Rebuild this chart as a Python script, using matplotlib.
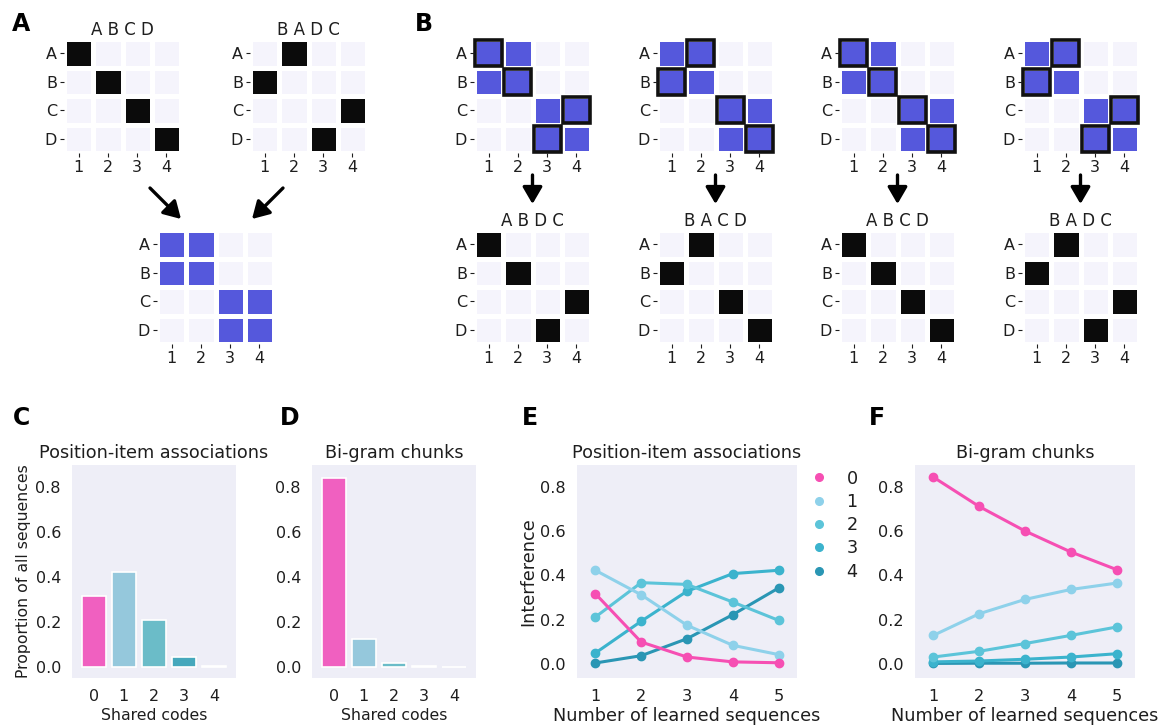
import numpy as np
import matplotlib
matplotlib.use('Agg')
import matplotlib.pyplot as plt
from matplotlib.colors import ListedColormap
from matplotlib.patches import Rectangle, FancyArrowPatch
from matplotlib.lines import Line2D

plt.rcParams['font.family'] = ['DejaVu Sans']
plt.rcParams['text.color'] = '#1e1e1e'
plt.rcParams['axes.labelcolor'] = '#1e1e1e'
plt.rcParams['xtick.color'] = '#1e1e1e'
plt.rcParams['ytick.color'] = '#1e1e1e'

W, H = 1174, 728

# ---- data ----
items = ['A', 'B', 'C', 'D']
positions = ['1', '2', '3', '4']

# 0 = empty, 1 = shared code (blue), 2 = one-hot code (black)
seq_abcd = [[2, 0, 0, 0], [0, 2, 0, 0], [0, 0, 2, 0], [0, 0, 0, 2]]
seq_badc = [[0, 2, 0, 0], [2, 0, 0, 0], [0, 0, 0, 2], [0, 0, 2, 0]]
seq_abdc = [[2, 0, 0, 0], [0, 2, 0, 0], [0, 0, 0, 2], [0, 0, 2, 0]]
seq_bacd = [[0, 2, 0, 0], [2, 0, 0, 0], [0, 0, 2, 0], [0, 0, 0, 2]]
chunks = [[1, 1, 0, 0], [1, 1, 0, 0], [0, 0, 1, 1], [0, 0, 1, 1]]

a_titles = ['A B C D', 'B A D C']
b_titles = ['A B D C', 'B A C D', 'A B C D', 'B A D C']
b_bottom = [seq_abdc, seq_bacd, seq_abcd, seq_badc]

shared_codes = [0, 1, 2, 3, 4]
prop_position_item = [0.314, 0.421, 0.21, 0.044, 0.003]
prop_bigram = [0.844, 0.126, 0.019, 0.002, 0.001]

n_learned = [1, 2, 3, 4, 5]
interf_position_item = {
    0: [0.317, 0.098, 0.030, 0.008, 0.004],
    1: [0.423, 0.312, 0.174, 0.083, 0.041],
    2: [0.211, 0.367, 0.359, 0.279, 0.196],
    3: [0.048, 0.192, 0.328, 0.408, 0.423],
    4: [0.003, 0.036, 0.113, 0.222, 0.343],
}
interf_bigram = {
    0: [0.845, 0.712, 0.601, 0.506, 0.426],
    1: [0.128, 0.226, 0.291, 0.336, 0.365],
    2: [0.030, 0.056, 0.091, 0.128, 0.166],
    3: [0.008, 0.012, 0.020, 0.030, 0.045],
    4: [0.001, 0.002, 0.002, 0.003, 0.003],
}

bar_colors = ['#f060c0', '#95c8dc', '#6bbcc8', '#46a8bc', '#2a8fa8']
line_colors = ['#f64fb3', '#8ed1ea', '#5cc4d9', '#3bb3cd', '#2a96b4']

heat_cmap = ListedColormap(['#f5f4fc', '#5558dc', '#0b0b0b'])
bg = '#eeeef7'


def ax_px(x0, y0, x1, y1):
    return fig.add_axes([x0 / W, 1 - y1 / H, (x1 - x0) / W, (y1 - y0) / H])


def heatmap(x0, y0, mat, title=None, boxes=None):
    ax = ax_px(x0, y0, x0 + 117, y0 + 114)
    m = np.array(mat)
    ax.pcolormesh(m, cmap=heat_cmap, vmin=0, vmax=2, edgecolors='white', linewidth=2.2)
    ax.set_xlim(0, 4)
    ax.set_ylim(4, 0)
    ax.set_xticks(np.arange(4) + 0.5)
    ax.set_xticklabels(positions, fontsize=11.5)
    ax.set_yticks(np.arange(4) + 0.5)
    ax.set_yticklabels(items, fontsize=11.5)
    ax.tick_params(length=3, width=0.8, pad=2)
    for s in ax.spines.values():
        s.set_visible(False)
    if title:
        ax.set_title(title, fontsize=12, pad=3)
    if boxes is not None:
        bm = np.array(boxes)
        for r in range(4):
            for c in range(4):
                if bm[r, c] == 2:
                    ax.add_patch(Rectangle((c + 0.04, r + 0.04), 0.92, 0.92, fill=False,
                                           ec='#111111', lw=2.6, clip_on=False))
    return ax


def arrow(x0, y0, x1, y1):
    fig.add_artist(FancyArrowPatch(
        (x0 / W, 1 - y0 / H), (x1 / W, 1 - y1 / H), transform=fig.transFigure,
        arrowstyle='-|>,head_length=6,head_width=3.5', lw=2.4, color='black',
        mutation_scale=1.7, shrinkA=0, shrinkB=0))


fig = plt.figure(figsize=(W / 100, H / 100), dpi=100)

# ---- panel A ----
heatmap(64, 39, seq_abcd, a_titles[0])
heatmap(250, 39, seq_badc, a_titles[1])
heatmap(157, 230, chunks)
arrow(150, 188, 181, 219)
arrow(283, 188, 252, 219)

# ---- panel B ----
b_x = [474, 657, 839, 1022]
for i, x in enumerate(b_x):
    heatmap(x, 39, chunks, boxes=b_bottom[i])
    heatmap(x, 230, b_bottom[i], b_titles[i])
    arrow(x + 58.5, 175, x + 58.5, 204)

# ---- panels C, D ----
for x0, vals, title in [(72, prop_position_item, 'Position-item associations'),
                        (312, prop_bigram, 'Bi-gram chunks')]:
    ax = ax_px(x0, 465, x0 + 164, 678)
    ax.set_facecolor(bg)
    ax.bar(shared_codes, vals, width=0.8, color=bar_colors, edgecolor='white', linewidth=1.2)
    ax.set_xlim(-0.72, 4.72)
    ax.set_ylim(-0.05, 0.9)
    ax.set_yticks([0, 0.2, 0.4, 0.6, 0.8])
    ax.set_xticks(shared_codes)
    ax.tick_params(length=0, labelsize=11.5, pad=8)
    for s in ax.spines.values():
        s.set_visible(False)
    ax.set_title(title, fontsize=12.7, pad=5)
    ax.set_xlabel('Shared codes', fontsize=11.3, labelpad=3)
    if x0 == 72:
        ax.set_ylabel('Proportion of all sequences', fontsize=11.3, labelpad=3)

# ---- panels E, F ----
for x0, series, title in [(577, interf_position_item, 'Position-item associations'),
                          (915, interf_bigram, 'Bi-gram chunks')]:
    ax = ax_px(x0, 465, x0 + 220, 678)
    ax.set_facecolor(bg)
    for k in [4, 3, 2, 1, 0]:
        ax.plot(n_learned, series[k], color=line_colors[k], lw=2.2, marker='o', ms=6,
                label=str(k))
    ax.set_xlim(0.6, 5.4)
    ax.set_ylim(-0.065, 0.9)
    ax.set_yticks([0, 0.2, 0.4, 0.6, 0.8])
    ax.set_xticks(n_learned)
    ax.tick_params(length=0, labelsize=11.6, pad=8)
    for s in ax.spines.values():
        s.set_visible(False)
    ax.set_title(title, fontsize=12.7, pad=5)
    ax.set_xlabel('Number of learned sequences', fontsize=12.7, labelpad=2)
    if x0 == 577:
        ax.set_ylabel('Interference', fontsize=12.7, labelpad=2)
        handles = [Line2D([], [], ls='none', marker='o', ms=5.5, color=line_colors[k])
                   for k in range(5)]
        ax.legend(handles, [str(k) for k in range(5)], loc='upper left',
                  bbox_to_anchor=(0.988, 1.053), frameon=False, fontsize=12.7,
                  handlelength=1.0, handletextpad=1.06, labelspacing=0.3)

# ---- panel letters ----
for lab, x, y in [('A', 12, 12), ('B', 415, 12), ('C', 13, 406), ('D', 280, 406),
                  ('E', 522, 406), ('F', 869, 406)]:
    fig.text(x / W, 1 - y / H, lab, fontsize=17, fontweight='bold', va='top', ha='left',
             color='black')

fig.savefig('out.png', dpi=100)
